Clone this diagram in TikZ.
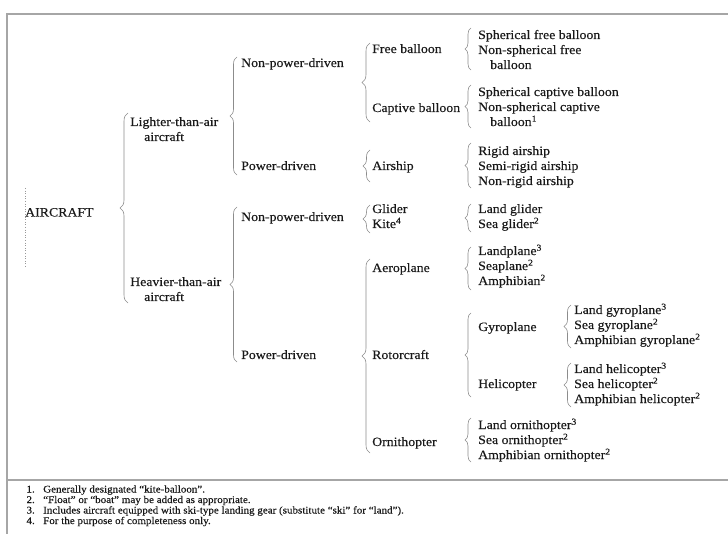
\documentclass[tikz,border=0pt]{standalone}
\usepackage{fontspec}
\setmainfont[FakeStretch=1.08,FakeBold=0.3]{Liberation Serif}
\usetikzlibrary{decorations.pathreplacing}
\tikzset{
  lbl/.style={anchor=base west, inner sep=0pt, font=\fontsize{12.8}{15}\selectfont, text=black!90},
  fn/.style={anchor=base west, inner sep=0pt, font=\fontsize{10.2}{11}\selectfont, text=black!90},
  fnnum/.style={anchor=base east, inner sep=0pt, font=\fontsize{10.2}{11}\selectfont, text=black!90},
  brc/.style={draw=black!45, line width=0.6pt, decorate, decoration={brace, amplitude=#1}},
  brc/.default=7,
  framel/.style={draw=black!35, line width=1.2pt},
}
\newcommand\mybrace[5]{%
  \coordinate (#1a) at (#2,#4);
  \coordinate (#1b) at (#2,#3);
  \draw[brc=#5] (#1a) -- (#1b);}
\begin{document}
\begin{tikzpicture}[x=1pt,y=-1pt]
\useasboundingbox (0,0) rectangle (728,534);
% frame
\coordinate (ftl) at (7,14);
\coordinate (ftr) at (728,14);
\coordinate (fbl) at (7,534);
\coordinate (fsl) at (7,480);
\coordinate (fsr) at (728,480);
\draw[framel] (ftr) -- (ftl) -- (fbl);
\draw[framel] (fsl) -- (fsr);
% dotted marker
\coordinate (dl1) at (25,188);
\coordinate (dl2) at (25,268);
\draw[black!40, dotted, line width=0.6pt] (dl1) -- (dl2);

% level 0-2
\node[lbl] (aircraft) at (25,216.5) {AIRCRAFT};
\node[lbl] (lta1) at (130,126) {Lighter-than-air};
\node[lbl] (lta2) at (144,141) {aircraft};
\node[lbl] (hta1) at (130,286) {Heavier-than-air};
\node[lbl] (hta2) at (144,301) {aircraft};
\node[lbl] (lnpd) at (241,67) {Non-power-driven};
\node[lbl] (lpd) at (241,170) {Power-driven};
\node[lbl] (hnpd) at (241,221) {Non-power-driven};
\node[lbl] (hpd) at (241,359) {Power-driven};

% level 3
\node[lbl] (free) at (372,53) {Free balloon};
\node[lbl] (capt) at (372,112) {Captive balloon};
\node[lbl] (airship) at (372,170) {Airship};
\node[lbl] (glider) at (372,213) {Glider};
\node[lbl] (kite) at (372,228) {Kite\textsuperscript{4}};
\node[lbl] (aero) at (372,272) {Aeroplane};
\node[lbl] (rotor) at (372,359) {Rotorcraft};
\node[lbl] (orni) at (372,446) {Ornithopter};

% level 4
\node[lbl] (sfb) at (478,39) {Spherical free balloon};
\node[lbl] (nsfb1) at (478,54) {Non-spherical free};
\node[lbl] (nsfb2) at (490,69) {balloon};
\node[lbl] (scb) at (478,96) {Spherical captive balloon};
\node[lbl] (nscb1) at (478,111) {Non-spherical captive};
\node[lbl] (nscb2) at (490,126) {balloon\textsuperscript{1}};
\node[lbl] (rig) at (478,155) {Rigid airship};
\node[lbl] (semi) at (478,170) {Semi-rigid airship};
\node[lbl] (nrig) at (478,185) {Non-rigid airship};
\node[lbl] (lgl) at (478,213) {Land glider};
\node[lbl] (sgl) at (478,228) {Sea glider\textsuperscript{2}};
\node[lbl] (lpl) at (478,255) {Landplane\textsuperscript{3}};
\node[lbl] (spl) at (478,270) {Seaplane\textsuperscript{2}};
\node[lbl] (apl) at (478,285) {Amphibian\textsuperscript{2}};
\node[lbl] (gyro) at (478,331) {Gyroplane};
\node[lbl] (heli) at (478,388) {Helicopter};
\node[lbl] (lor) at (478,429) {Land ornithopter\textsuperscript{3}};
\node[lbl] (sor) at (478,444) {Sea ornithopter\textsuperscript{2}};
\node[lbl] (aor) at (478,459) {Amphibian ornithopter\textsuperscript{2}};

% level 5
\node[lbl] (lgy) at (574,314) {Land gyroplane\textsuperscript{3}};
\node[lbl] (sgy) at (574,329) {Sea gyroplane\textsuperscript{2}};
\node[lbl] (agy) at (574,344) {Amphibian gyroplane\textsuperscript{2}};
\node[lbl] (lhe) at (574,373) {Land helicopter\textsuperscript{3}};
\node[lbl] (she) at (574,388) {Sea helicopter\textsuperscript{2}};
\node[lbl] (ahe) at (574,403) {Amphibian helicopter\textsuperscript{2}};

% braces
\mybrace{b0}{128}{113}{303}{8}
\mybrace{b1}{237}{57}{175}{7}
\mybrace{b2}{237}{207}{362}{7}
\mybrace{b3}{370}{43}{122}{8}
\mybrace{b4}{370}{150}{182}{7}
\mybrace{b5}{370}{205}{233}{7}
\mybrace{b6}{370}{259}{453}{8}
\mybrace{c1}{471}{28}{70}{6}
\mybrace{c2}{471}{85}{128}{6}
\mybrace{c3}{471}{143}{188}{6}
\mybrace{c4}{471}{204}{232}{6}
\mybrace{c5}{471}{247}{290}{6}
\mybrace{c6}{471}{313}{397}{6}
\mybrace{c7}{471}{418}{462}{6}
\mybrace{d1}{571}{305}{348}{7}
\mybrace{d2}{571}{363}{407}{7}

% footnotes
\node[fnnum] (n1) at (35,492.5) {1.};
\node[fn] (f1) at (43,492.5) {Generally designated “kite-balloon”.};
\node[fnnum] (n2) at (35,503) {2.};
\node[fn] (f2) at (43,503) {“Float” or “boat” may be added as appropriate.};
\node[fnnum] (n3) at (35,513.5) {3.};
\node[fn] (f3) at (43,513.5) {Includes aircraft equipped with ski-type landing gear (substitute “ski” for “land”).};
\node[fnnum] (n4) at (35,524) {4.};
\node[fn] (f4) at (43,524) {For the purpose of completeness only.};
\end{tikzpicture}
\end{document}
